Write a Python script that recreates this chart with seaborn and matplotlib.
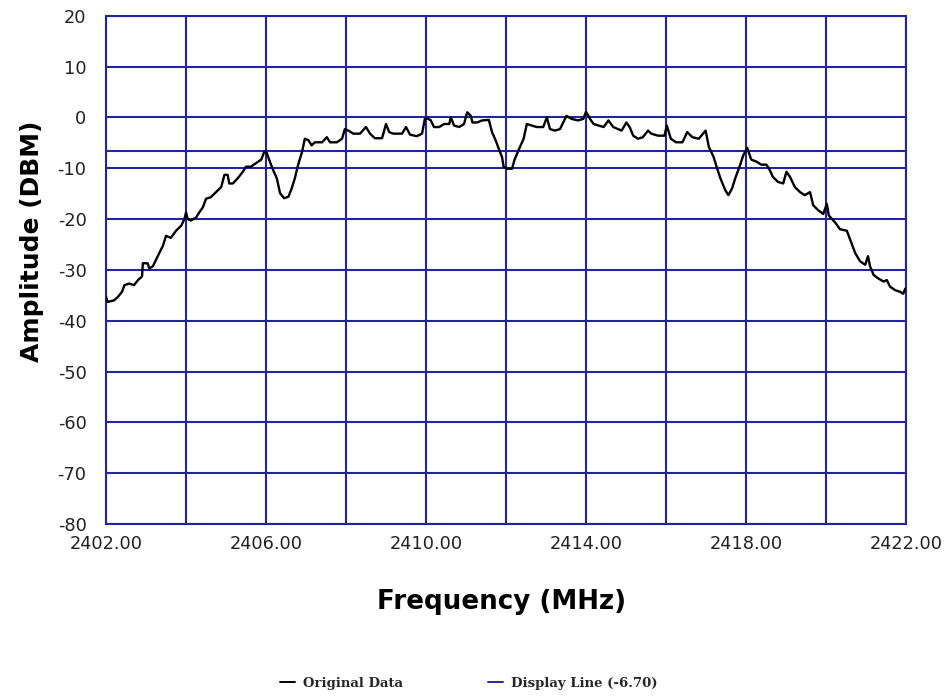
import numpy as np
import pandas as pd
import matplotlib
matplotlib.use("Agg")
import matplotlib.pyplot as plt
import seaborn as sns
from matplotlib.lines import Line2D

# ---- data ----
freq_mhz = [
    2402.00, 2402.04, 2402.20, 2402.30, 2402.40, 2402.46, 2402.58, 2402.70, 2402.80, 2402.90,
    2402.92, 2403.04, 2403.08, 2403.17, 2403.25, 2403.33, 2403.42, 2403.50, 2403.62, 2403.75,
    2403.88, 2403.96, 2404.00, 2404.04, 2404.12, 2404.25, 2404.33, 2404.42, 2404.50, 2404.62,
    2404.75, 2404.88, 2404.96, 2405.04, 2405.08, 2405.17, 2405.29, 2405.42, 2405.50, 2405.62,
    2405.75, 2405.88, 2405.96,
    2406.00, 2406.10, 2406.18, 2406.27, 2406.35, 2406.45, 2406.56, 2406.64, 2406.72, 2406.80,
    2406.90, 2406.97, 2407.06, 2407.14, 2407.22, 2407.40, 2407.52, 2407.60, 2407.77, 2407.90,
    2407.97, 2408.06, 2408.18, 2408.35, 2408.50, 2408.60, 2408.72, 2408.90, 2409.00, 2409.08,
    2409.18, 2409.40, 2409.50, 2409.60, 2409.77, 2409.90, 2409.97,
    2410.04, 2410.12, 2410.20, 2410.33, 2410.45, 2410.58, 2410.62, 2410.70, 2410.83, 2410.95,
    2411.03, 2411.12, 2411.16, 2411.28, 2411.40, 2411.57, 2411.65, 2411.74, 2411.82, 2411.90,
    2411.94, 2412.02, 2412.15, 2412.21, 2412.31, 2412.44, 2412.52, 2412.64, 2412.77, 2412.93,
    2413.02, 2413.10, 2413.22, 2413.35, 2413.51, 2413.64, 2413.80, 2413.93, 2414.00,
    2414.10, 2414.19, 2414.31, 2414.44, 2414.56, 2414.68, 2414.89, 2415.01, 2415.09, 2415.18,
    2415.30, 2415.42, 2415.55, 2415.63, 2415.80, 2415.96, 2416.02, 2416.12, 2416.25, 2416.41,
    2416.53, 2416.66, 2416.82, 2416.99, 2417.07, 2417.19, 2417.28, 2417.36, 2417.48, 2417.56,
    2417.65, 2417.73, 2417.85, 2417.93, 2418.03,
    2418.13, 2418.26, 2418.38, 2418.51, 2418.59, 2418.67, 2418.80, 2418.93, 2419.01, 2419.10,
    2419.22, 2419.35, 2419.47, 2419.60, 2419.68, 2419.81, 2419.93, 2420.02, 2420.07, 2420.23,
    2420.35, 2420.52, 2420.60, 2420.73, 2420.85, 2420.98, 2421.05, 2421.10, 2421.19, 2421.31,
    2421.44, 2421.52, 2421.60, 2421.73, 2421.85, 2421.93, 2421.98,
]
amplitude_dbm = [
    -35.3, -36.3, -36.0, -35.3, -34.3, -33.0, -32.7, -33.0, -32.0, -31.3,
    -28.7, -28.7, -29.7, -29.3, -28.0, -26.7, -25.3, -23.3, -23.7, -22.3,
    -21.3, -20.0, -18.7, -20.0, -20.3, -19.7, -18.7, -17.7, -16.0, -15.7,
    -14.7, -13.7, -11.3, -11.3, -13.0, -13.0, -12.0, -10.7, -9.7, -9.7,
    -9.0, -8.3, -6.7,
    -6.6, -8.8, -10.4, -12.0, -14.9, -15.9, -15.6, -14.0, -12.0, -9.4,
    -6.8, -4.2, -4.5, -5.5, -4.9, -4.9, -3.9, -4.9, -4.9, -4.2,
    -2.3, -2.6, -3.2, -3.2, -1.9, -3.2, -4.1, -4.1, -1.3, -2.9,
    -3.2, -3.2, -1.9, -3.4, -3.7, -3.2, -0.3,
    -0.2, -0.6, -1.9, -1.9, -1.3, -1.3, 0.0, -1.6, -1.9, -1.3,
    1.0, 0.3, -1.0, -1.0, -0.6, -0.5, -2.9, -4.5, -6.2, -7.8,
    -9.7, -10.1, -10.1, -8.4, -6.5, -4.2, -1.3, -1.6, -1.9, -1.9,
    0.0, -2.3, -2.6, -2.3, 0.3, -0.3, -0.6, -0.3, 1.1,
    -0.3, -1.3, -1.6, -1.9, -0.6, -1.9, -2.6, -1.0, -1.9, -3.6,
    -4.2, -3.9, -2.6, -3.2, -3.6, -3.6, -1.6, -4.2, -4.9, -4.9,
    -2.9, -3.9, -4.2, -2.6, -5.8, -7.8, -10.1, -12.0, -14.3, -15.3,
    -14.0, -12.0, -9.4, -7.5, -6.0,
    -8.3, -8.7, -9.3, -9.3, -10.3, -11.7, -12.7, -13.0, -10.7, -11.7,
    -13.7, -14.7, -15.3, -14.7, -17.3, -18.3, -19.0, -17.0, -19.3, -20.7,
    -22.0, -22.3, -24.0, -26.7, -28.3, -29.0, -27.3, -29.3, -31.0, -31.7,
    -32.3, -32.0, -33.3, -34.0, -34.3, -34.7, -33.7,
]
display_line_dbm = -6.70
x_major_ticks = [2402, 2406, 2410, 2414, 2418, 2422]
x_grid_ticks = [2404, 2408, 2412, 2416, 2420]
y_ticks = [-80, -70, -60, -50, -40, -30, -20, -10, 0, 10, 20]
legend_labels = ["Original Data", "Display Line (-6.70)"]

# ---- style ----
sns.set_theme(style="white")
plt.rcParams["font.family"] = ["DejaVu Sans"]
grid_blue = "#2424A0"

fig = plt.figure(figsize=(9.51, 6.96), dpi=100)
ax = fig.add_axes([0.1115, 0.2471, 0.8412, 0.7303])

df = pd.DataFrame({"freq": freq_mhz, "amp": amplitude_dbm})
sns.lineplot(data=df, x="freq", y="amp", ax=ax, color="black", linewidth=1.7,
             estimator=None, sort=False, zorder=3)

ax.axhline(display_line_dbm, color=grid_blue, linewidth=1.5, zorder=2)

ax.set_xlim(2402, 2422)
ax.set_ylim(-80, 20)
ax.set_xticks(x_major_ticks)
ax.set_xticklabels([f"{v:.2f}" for v in x_major_ticks])
ax.set_xticks(x_grid_ticks, minor=True)
ax.set_yticks(y_ticks)
ax.set_yticklabels([str(v) for v in y_ticks])

ax.grid(True, which="both", color=grid_blue, linewidth=1.5, zorder=1)
ax.set_axisbelow(True)
for s in ax.spines.values():
    s.set_color(grid_blue)
    s.set_linewidth(1.5)
ax.tick_params(axis="both", which="both", length=0, labelsize=12.8, colors="#222222")
ax.tick_params(axis="y", pad=14)
ax.tick_params(axis="x", pad=8)

ax.set_xlabel("Frequency (MHz)", fontsize=18.8, fontweight="bold", color="black")
ax.xaxis.set_label_coords(0.495, -0.127)
ax.set_ylabel("Amplitude (DBM)", fontsize=18, fontweight="bold", color="black")
ax.yaxis.set_label_coords(-0.077, 0.557)

handles = [Line2D([0], [0], color="black", lw=1.4),
           Line2D([0], [0], color=grid_blue, lw=1.4)]
fig.legend(handles, legend_labels, loc="center", bbox_to_anchor=(0.493, 0.018),
           ncol=2, frameon=False, handlelength=1.1, handletextpad=0.6, columnspacing=6.5,
           prop={"family": "DejaVu Serif", "size": 9.5, "weight": "bold"})

fig.savefig("out.png", dpi=100)
